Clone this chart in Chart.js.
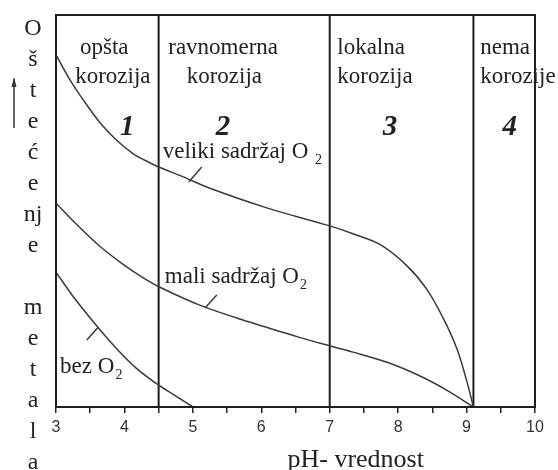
<!DOCTYPE html>
<html lang="sr">
<head>
  <meta charset="UTF-8">
  <title>Oštećenje metala i pH</title>
  <script src="https://cdn.jsdelivr.net/npm/chart.js"></script>
  <style>
    body { margin: 0; background: #fff; }
    canvas { display: block; }
  </style>
</head>
<body>
  <canvas id="grafik" width="558" height="470"></canvas>

  <script>
    // pH vrednosti i relativno oštećenje (0-100) za svaku krivu
    const velikiPH = [3, 3.2, 3.4, 3.64, 3.89, 4.13, 4.37, 4.49, 4.86, 5.25, 6.08, 7.0, 7.34, 7.74, 8.13, 8.42, 8.66, 8.86, 9.0, 9.1];
    const velikiY  = [89.8, 83.6, 78.3, 72.6, 68.0, 64.6, 62.3, 61.3, 58.7, 55.8, 50.8, 46.2, 44.2, 41.4, 36.0, 30.0, 22.6, 14.8, 6.8, 0];
    const maliPH = [3, 3.3, 3.64, 3.98, 4.27, 4.49, 5.1, 5.84, 6.57, 7.0, 7.34, 7.84, 8.32, 8.72, 9.1];
    const maliY  = [52, 46.6, 41.0, 36.4, 33.0, 30.8, 26, 21.6, 17.7, 15.6, 14.0, 11.4, 7.9, 4.2, 0];
    const bezPH = [3, 3.25, 3.6, 3.89, 4.18, 4.49, 4.77, 5.0];
    const bezY  = [34.4, 28.2, 20.6, 14.8, 9.8, 5.7, 2.6, 0];

    // granice oblasti korozije
    const granice = [4.5, 7, 9.1];
    const xTicks = [3, 4, 5, 6, 7, 8, 9, 10];

    const oblasti = [
      ['opšta', 3.35, 90], ['korozija', 3.28, 82.6],
      ['ravnomerna', 4.64, 90], ['korozija', 4.91, 82.6],
      ['lokalna', 7.11, 90], ['korozija', 7.11, 82.6],
      ['nema', 9.2, 90], ['korozije', 9.2, 82.6]
    ];
    const brojevi = [['1', 4.04, 69.4], ['2', 5.44, 69.4], ['3', 7.88, 69.4], ['4', 9.63, 69.4]];
    // [tekst, pH, y, razmak pre indeksa]
    const natpisi = [['veliki sadržaj O', 4.56, 63.6, ' '], ['mali sadržaj O', 4.59, 31.6, ''], ['bez O', 3.06, 8.7, '']];
    const crtice = [[4.94, 57.4, 5.13, 61.2], [5.18, 25.3, 5.35, 28.6], [3.45, 17.1, 3.61, 20.2]];
    const yNaslov = ['O', 'š', 't', 'e', 'ć', 'e', 'nj', 'e', '', 'm', 'e', 't', 'a', 'l', 'a'];

    const tacke = (xs, ys) => xs.map((x, i) => ({ x: x, y: ys[i] }));
    const kriva = { borderColor: '#3a3a3a', borderWidth: 1.5, pointRadius: 0, tension: 0.35, fill: false };
    const linija = { borderColor: '#1e1e1e', borderWidth: 2, pointRadius: 0, tension: 0, fill: false };

    const datasets = [
      Object.assign({ data: tacke(velikiPH, velikiY) }, kriva),
      Object.assign({ data: tacke(maliPH, maliY) }, kriva),
      Object.assign({ data: tacke(bezPH, bezY) }, kriva)
    ];
    granice.forEach(g => datasets.push(Object.assign({ data: [{ x: g, y: 0 }, { x: g, y: 100 }] }, linija)));
    crtice.forEach(c => datasets.push(Object.assign({ data: [{ x: c[0], y: c[1] }, { x: c[2], y: c[3] }] }, kriva, { tension: 0 })));

    const serif = '"Liberation Serif", "Times New Roman", serif';

    const tekstovi = {
      id: 'tekstovi',
      afterDatasetsDraw(chart) {
        const c = chart.ctx, a = chart.chartArea;
        const sx = chart.scales.x, sy = chart.scales.y;
        c.save();
        // okvir
        c.strokeStyle = '#1e1e1e';
        c.lineWidth = 2;
        c.strokeRect(a.left, a.top, a.right - a.left, a.bottom - a.top);

        c.fillStyle = '#222';
        c.textBaseline = 'alphabetic';
        c.textAlign = 'left';
        c.font = '23px ' + serif;
        oblasti.forEach(o => c.fillText(o[0], sx.getPixelForValue(o[1]), sy.getPixelForValue(o[2])));

        natpisi.forEach(n => {
          const x = sx.getPixelForValue(n[1]), y = sy.getPixelForValue(n[2]);
          c.font = '23px ' + serif;
          c.fillText(n[0] + n[3], x, y);
          const w = c.measureText(n[0] + n[3]).width;
          c.font = '14px ' + serif;
          c.fillText('2', x + w + 1, y + 6);
        });

        c.textAlign = 'center';
        c.font = 'italic bold 29px ' + serif;
        brojevi.forEach(b => c.fillText(b[0], sx.getPixelForValue(b[1]), sy.getPixelForValue(b[2])));

        // naslov y ose, slovo po slovo
        c.font = '24px ' + serif;
        yNaslov.forEach((s, i) => c.fillText(s, a.left - 23, a.top + 20 + 31 * i));

        // strelica
        const ax = a.left - 42;
        c.lineWidth = 1.5;
        c.strokeStyle = '#333';
        c.beginPath();
        c.moveTo(ax, a.top + 113);
        c.lineTo(ax, a.top + 64);
        c.stroke();
        c.fillStyle = '#333';
        c.beginPath();
        c.moveTo(ax, a.top + 62);
        c.lineTo(ax - 2.5, a.top + 72);
        c.lineTo(ax + 2.5, a.top + 72);
        c.closePath();
        c.fill();

        // naslov x ose
        c.fillStyle = '#222';
        c.font = '26px ' + serif;
        c.fillText('pH- vrednost', sx.getPixelForValue(7.38), a.bottom + 60);
        c.restore();
      }
    };

    new Chart(document.getElementById('grafik'), {
      type: 'line',
      data: { datasets: datasets },
      options: {
        responsive: false,
        animation: false,
        events: [],
        layout: { padding: { left: 56, right: 23, top: 15, bottom: 0 } },
        plugins: { legend: { display: false }, tooltip: { enabled: false } },
        scales: {
          x: {
            type: 'linear',
            min: 3,
            max: 10,
            afterFit: s => { s.height = 63; },
            ticks: {
              stepSize: 0.5,
              autoSkip: false,
              maxRotation: 0,
              padding: 5,
              color: '#333',
              font: { family: '"Liberation Sans", Arial, sans-serif', size: 16 },
              callback: v => xTicks.includes(v) ? String(v) : ''
            },
            grid: { drawOnChartArea: false, drawTicks: true, tickLength: 6, color: '#222', lineWidth: 1.5 },
            border: { display: true, color: '#1e1e1e', width: 2 }
          },
          y: { display: false, min: 0, max: 100 }
        }
      },
      plugins: [tekstovi]
    });
  </script>
</body>
</html>
